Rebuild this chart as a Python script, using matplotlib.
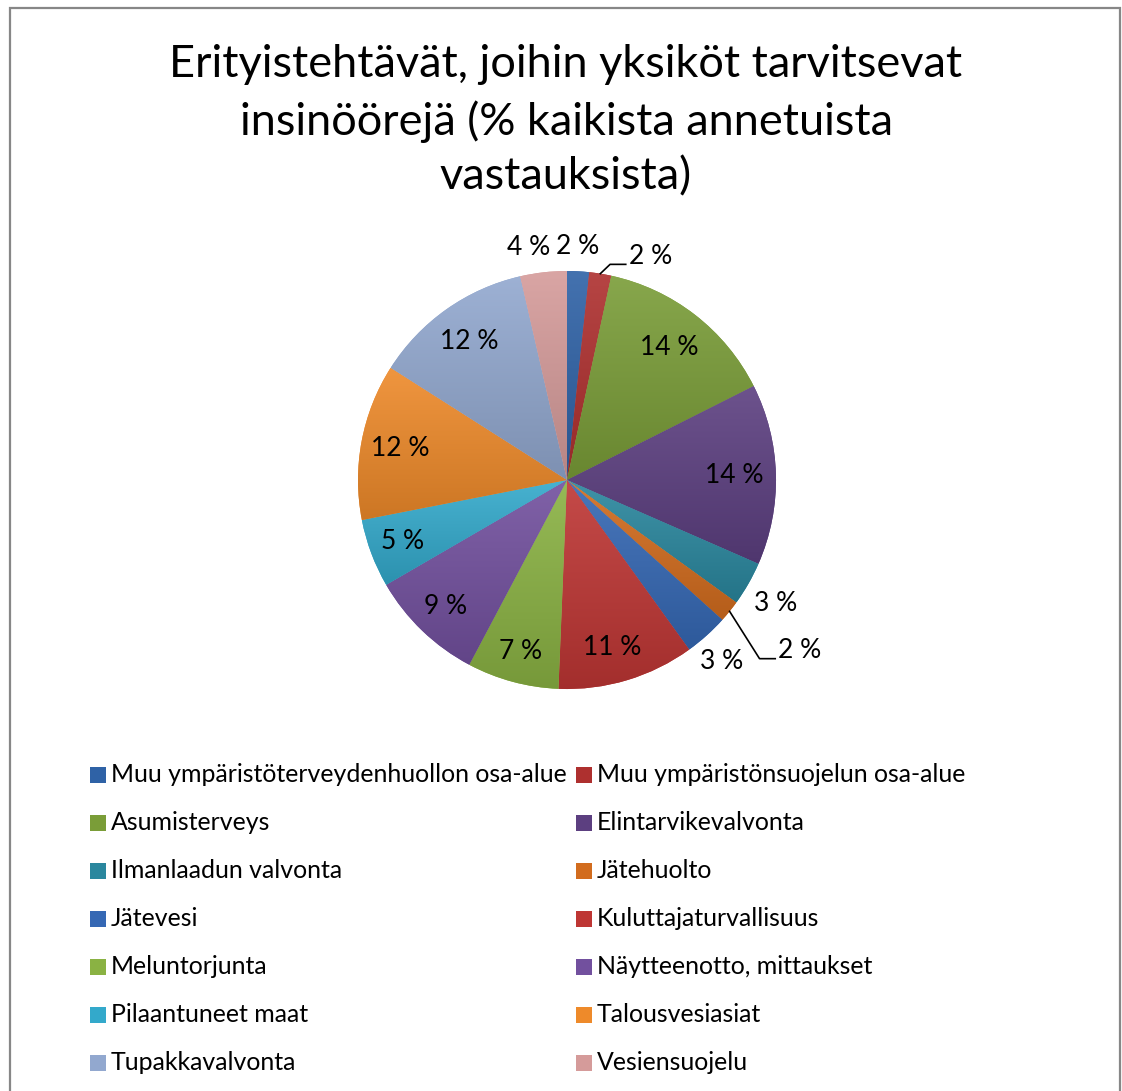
import numpy as np
import matplotlib
matplotlib.use("Agg")
import matplotlib.pyplot as plt
from matplotlib.patches import Rectangle
from matplotlib.colors import to_rgb

plt.rcParams['font.family'] = ['Lato', 'DejaVu Sans']

title = "Erityistehtävät, joihin yksiköt tarvitsevat\ninsinöörejä (% kaikista annetuista\nvastauksista)"

categories = [
    "Muu ympäristöterveydenhuollon osa-alue",
    "Muu ympäristönsuojelun osa-alue",
    "Asumisterveys",
    "Elintarvikevalvonta",
    "Ilmanlaadun valvonta",
    "Jätehuolto",
    "Jätevesi",
    "Kuluttajaturvallisuus",
    "Meluntorjunta",
    "Näytteenotto, mittaukset",
    "Pilaantuneet maat",
    "Talousvesiasiat",
    "Tupakkavalvonta",
    "Vesiensuojelu",
]
shares = [1.7, 1.7, 14.2, 14.0, 3.4, 1.7, 3.4, 10.6, 7.1, 8.9, 5.3, 12.1, 12.4, 3.6]
colors = ["#2F62A6", "#AE302F", "#7A9D38", "#5C3F80", "#2A879E", "#D26C1E",
          "#3568B4", "#BE3634", "#8AB243", "#72509E", "#33A9CB", "#EE8A2A",
          "#92A8CF", "#D59B9A"]

# label placement: radius factor and angular nudge (deg) for each slice
label_r = [1.12, 1.11, 0.80, 0.80, 1.16, 1.30, 1.14, 0.83, 0.85, 0.84, 0.84, 0.81, 0.81, 1.13]
label_da = [-0.5, 6.3, 0, 0, 0.8, 0.0, 1.4, 1.6, 0, 0, 0, 0, 0, -3]
leader = [False, True, False, False, False, True, False, False, False, False, False, False, False, False]

W, H = 1122, 1091
fig = plt.figure(figsize=(W / 100, H / 100), dpi=100)

# frame around the chart area
fig.patches.append(Rectangle((10 / W, -0.02), 1110 / W, 1 - 8 / H + 0.02,
                             transform=fig.transFigure, fill=False,
                             edgecolor="#878787", linewidth=1.6))

fig.text(566 / W, 1 - 121 / H, title, ha="center", va="center",
         fontsize=32.5, linespacing=1.42, color="black")

# pie axes: centre (567, 480) px, radius 209 px
R = 209
LIM = 1.45
half = LIM * R
ax = fig.add_axes([(567 - half) / W, (H - 480 - half) / H, 2 * half / W, 2 * half / H])

wedges, _ = ax.pie(shares, colors=colors, startangle=90, counterclock=False,
                   radius=1.0, wedgeprops=dict(linewidth=0))
ax.set_aspect("equal")
ax.axis("off")


def shade(c, f):
    r = np.array(to_rgb(c))
    if f >= 1:
        return r + (1 - r) * (f - 1)
    return r * f


# vertical gradient inside each wedge: lighter at the top, darker at the bottom
for w, c in zip(wedges, colors):
    ext = w.get_path().get_extents()
    top, bot = shade(c, 1.10), shade(c, 0.86)
    t = np.linspace(0, 1, 128)[:, None]
    grad = top[None, :] * (1 - t) + bot[None, :] * t
    img = np.repeat(grad[:, None, :], 2, axis=1)
    im = ax.imshow(img, extent=(ext.x0, ext.x1, ext.y0, ext.y1), origin="upper",
                   aspect="auto", interpolation="bilinear", zorder=w.get_zorder())
    im.set_clip_path(w)
ax.set_xlim(-LIM, LIM)
ax.set_ylim(-LIM, LIM)

# percentage labels
for w, s, rf, da, ld in zip(wedges, shares, label_r, label_da, leader):
    mid = np.deg2rad((w.theta1 + w.theta2) / 2)
    txt = f"{s:.0f} %"
    ang = mid - np.deg2rad(da)
    tx, ty = rf * np.cos(ang), rf * np.sin(ang)
    if ld:
        ex, ey = np.cos(mid), np.sin(mid)
        ly = ty - 0.038
        ax.plot([ex, tx - 0.09, tx - 0.015], [ey, ly, ly],
                color="black", lw=1.2, zorder=5)
        ax.text(tx, ty, txt, ha="left", va="center", fontsize=19, zorder=6)
    else:
        ax.text(tx, ty, txt, ha="center", va="center", fontsize=19, zorder=6)

# legend in two columns, filled row by row
col_x = [90, 576]
row_y0, row_dy = 775, 48
sq = 16
for i, (name, c) in enumerate(zip(categories, colors)):
    x = col_x[i % 2]
    y = row_y0 + (i // 2) * row_dy
    fig.patches.append(Rectangle((x / W, 1 - (y + sq / 2) / H), sq / W, sq / H,
                                 transform=fig.transFigure, facecolor=c,
                                 edgecolor="none"))
    fig.text((x + sq + 5) / W, 1 - y / H, name, ha="left", va="center",
             fontsize=17.9, color="black")

fig.savefig("out.png", dpi=100, facecolor="white")
